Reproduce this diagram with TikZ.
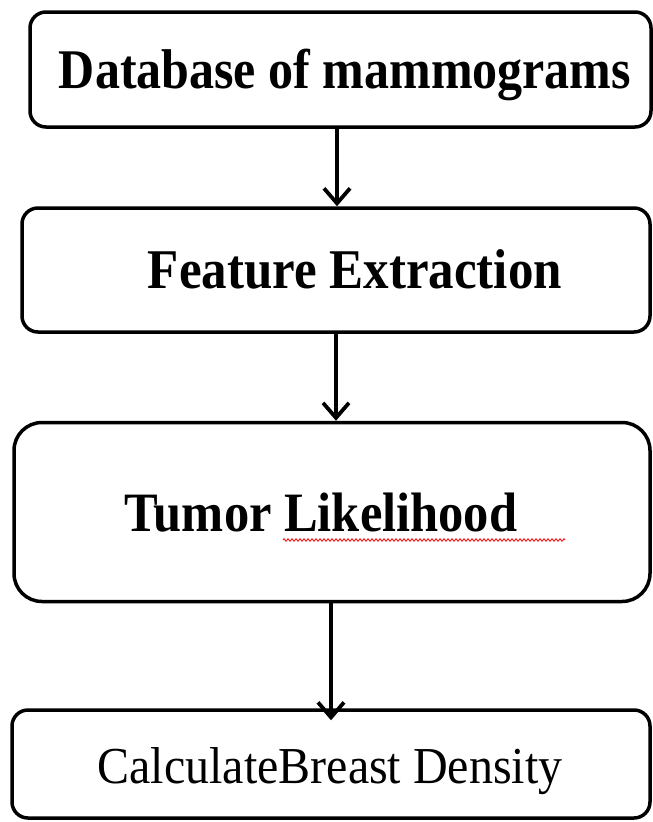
\documentclass[tikz,border=0pt]{standalone}
\usepackage{fontspec}
\setmainfont{Liberation Serif}
\usetikzlibrary{arrows.meta,decorations.pathmorphing}
\begin{document}
\begin{tikzpicture}[x=1pt,y=-1pt,
  boxnode/.style={draw, line width=3.5pt, rounded corners=16pt, inner sep=0pt},
  lbl/.style={inner sep=0pt, anchor=base},
  arr/.style={line width=3.8pt, -{Straight Barb[length=15pt,width=26pt,line join=miter]}}]
\useasboundingbox (0,0) rectangle (653,822);
\node[boxnode, minimum width=621pt, minimum height=115pt] (b1) at (340.5,69.5) {};
\node[boxnode, minimum width=628pt, minimum height=124pt] (b2) at (336,270) {};
\node[boxnode, rounded corners=28pt, minimum width=636pt, minimum height=179pt] (b3) at (332,512) {};
\node[boxnode, minimum width=638pt, minimum height=108pt] (b4) at (331,764) {};
\node[lbl] (t1) at (345,88) {\scalebox{1}[1.12]{\fontsize{50}{60}\selectfont\bfseries Database of mammograms}};
\node[lbl] (t2) at (355,288) {\scalebox{1}[1.1]{\fontsize{51}{60}\selectfont\bfseries Feature Extraction}};
\node[lbl] (t3) at (321,531) {\scalebox{1}[1.1]{\fontsize{50.5}{60}\selectfont\bfseries Tumor Likelihood}};
\node[lbl] (t4) at (330,783) {\scalebox{1}[1.08]{\fontsize{48}{60}\selectfont CalculateBreast Density}};
\coordinate (s1) at (283,540);
\coordinate (s2) at (565,540);
\draw[red, line width=0.8pt, decorate, decoration={zigzag, segment length=4pt, amplitude=1.3pt}] (s1) -- (s2);
\draw[arr] (337,0 |- b1.south) -- (337,0 |- b2.north);
\draw[arr] (336,0 |- b2.south) -- (336,0 |- b3.north);
\draw[arr, shorten >=-12pt] (331,0 |- b3.south) -- (331,0 |- b4.north);
\end{tikzpicture}
\end{document}
